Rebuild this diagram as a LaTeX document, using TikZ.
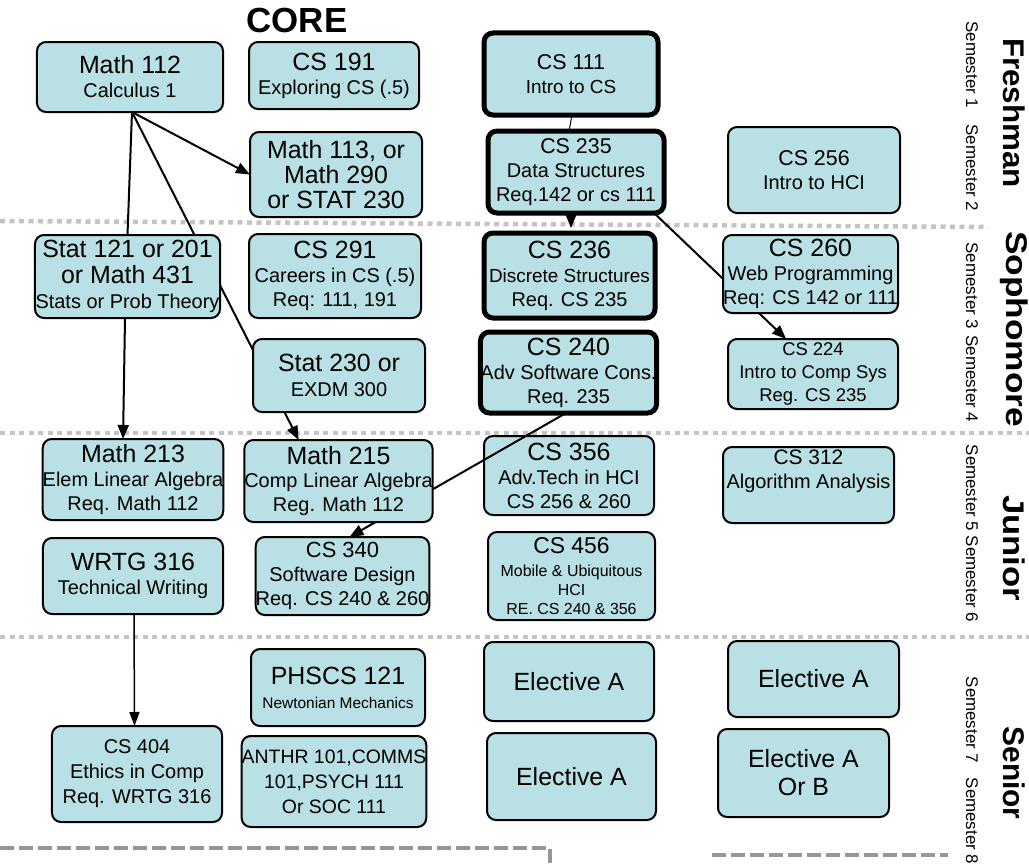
\documentclass[tikz,border=0pt]{standalone}
\usepackage{fontspec}
\usepackage{graphicx}
\setmainfont{Liberation Sans}
\usetikzlibrary{arrows.meta}
\definecolor{boxfill}{RGB}{185,224,228}
\definecolor{sepgray}{RGB}{196,196,196}
\definecolor{dashgray}{RGB}{150,150,150}
\newcommand\fBig{\fontsize{25}{26}\selectfont}
\newcommand\fMed{\fontsize{20}{24}\selectfont}
\begin{document}
\begin{tikzpicture}[x=1bp,y=-1bp,
  course/.style={draw, line width=2bp, rounded corners=9bp, fill=boxfill, align=center,
                 inner sep=0pt, outer sep=0pt, font=\fMed},
  keycourse/.style={course, line width=5bp},
  sz/.style 2 args={minimum width=#1bp, minimum height=#2bp},
  sem/.style={rotate=-90, font=\fontsize{17}{20}\selectfont},
  year/.style={rotate=-90, font=\fontsize{30}{32}\selectfont\bfseries},
  sep/.style={sepgray, line width=4.5bp, dash pattern=on 5bp off 4.5bp},
  frame/.style={dashgray, line width=4bp, dash pattern=on 14bp off 5bp},
  link/.style={line width=2bp, -{Triangle[length=14bp,width=11bp]}},
  plain/.style={line width=2bp},
]
\useasboundingbox (0,0) rectangle (1029,864);

% separators
\draw[sep] (0,221) -- (988,227);
\draw[sep] (0,433) -- (1029,433);
\draw[sep] (0,637) -- (1029,637);
\draw[frame] (0,848) -- (550,848) -- (550,864);
\draw[frame] (712,855) -- (948,855);

% title
\node[font=\fontsize{35}{36}\selectfont\bfseries] (core) at (297,20) {CORE};

% year / semester labels
\node[sem] (s1) at (972,65) {Semester 1};
\node[sem] (s2) at (972,168) {Semester 2};
\node[sem] (s3) at (972,286) {Semester 3};
\node[sem] (s4) at (972,379) {Semester 4};
\node[sem] (s5) at (972,488) {Semester 5};
\node[sem] (s6) at (972,579) {Semester 6};
\node[sem] (s7) at (972,720) {Semester 7};
\node[sem] (s8) at (972,821) {Semester 8};
\node[year] (fr) at (1014,113) {\scalebox{1.05}[1]{Freshman}};
\node[year] (so) at (1014,329) {\scalebox{1.18}[1]{Sophomore}};
\node[year] (ju) at (1014,548) {\scalebox{1.16}[1]{Junior}};
\node[year] (se) at (1014,773) {\scalebox{1.0}[1]{Senior}};

% courses (first group)
\node[course, sz={186}{70}] (math112) at (130,77) {{\fBig Math 112}\\Calculus 1};
\node[course, sz={170}{67}] (cs191) at (334,75.5) {{\fBig CS 191}\\Exploring CS (.5)};
\node[course, sz={172}{85}, font=\fontsize{25}{25.5}\selectfont] (math113) at (336,174.5) {Math 113, or\\Math 290\\or STAT 230};
\node[keycourse, sz={174}{82}] (cs111) at (571,74) {{\fontsize{21.5}{24}\selectfont CS 111}\\{\fontsize{19}{24}\selectfont Intro to CS}};
\node[keycourse, sz={176}{82}] (cs235) at (576,172) {{\fontsize{21.5}{24}\selectfont CS 235}\\Data Structures\\Req.142 or cs 111};
\node[course, sz={172}{86}] (cs256) at (814,170) {{\fontsize{21.5}{24}\selectfont CS 256}\\Intro to HCI};
\node[course, sz={172}{84}] (cs291) at (335,276) {{\fBig CS 291}\\Careers in CS (.5)\\Req: 111, 191};
\node[keycourse, sz={171}{85}] (cs236) at (569.5,275.5) {{\fBig CS 236}\\{\fontsize{19}{24}\selectfont Discrete Structures}\\Req. CS 235};
\node[course, sz={170}{70}, font=\fontsize{18.5}{23}\selectfont] (cs224) at (813,374) {CS 224\\Intro to Comp Sys\\Reg. CS 235};
\node[keycourse, sz={173}{81}] (cs240) at (568.5,372.5) {{\fBig CS 240}\\Adv Software Cons.\\Req. 235};
\node[course, sz={171}{78}] (cs340) at (342.5,576) {{\fontsize{22}{24}\selectfont CS 340}\\Software Design\\Req. CS 240 \& 260};
\node[course, sz={170}{79}] (cs356) at (569,475.5) {{\fBig CS 356}\\Adv.Tech in HCI\\CS 256 \& 260};
\node[course, sz={171}{76}] (cs312) at (808.5,485) {{\fontsize{21}{24}\selectfont CS 312}\\Algorithm Analysis\\\strut};
\node[course, sz={180}{81}] (math213) at (133,479.5) {{\fBig Math 213}\\Elem Linear Algebra\\Req. Math 112};
\node[course, sz={180}{76}] (wrtg316) at (133,576) {{\fBig WRTG 316}\\Technical Writing};
\node[course, sz={167}{88}, font=\fontsize{16}{19}\selectfont] (cs456) at (571.5,576) {{\fontsize{23}{24}\selectfont CS 456}\\[4bp]Mobile \& Ubiquitous\\HCI\\RE. CS 240 \& 356};
\node[course, sz={174}{77}] (phscs121) at (338,687.5) {{\fBig PHSCS 121}\\{\fontsize{15.5}{20}\selectfont Newtonian Mechanics}};
\node[course, sz={170}{79}, font=\fBig] (electA1) at (569,681.5) {Elective A};
\node[course, sz={171}{76}, font=\fBig] (electA2) at (813.5,679) {Elective A};
\node[course, sz={170}{96}, font=\fontsize{20}{25}\selectfont] (cs404) at (137,774) {CS 404\\Ethics in Comp\\Req. WRTG 316};
\node[course, sz={182}{91}, font=\fontsize{19.5}{25}\selectfont] (anthr) at (334,781.5) {ANTHR 101,COMMS\\101,PSYCH 111\\Or SOC 111};
\node[course, sz={169}{87}, font=\fBig] (electA3) at (571.5,776.5) {Elective A};
\node[course, sz={171}{88}, font=\fontsize{25}{28}\selectfont] (electAB) at (803.5,773) {Elective A\\Or B};

% connector hidden behind CS 260
\draw[link] ([xshift=-10]cs235.south east) -- ([xshift=-27]cs224.north);
\node[course, sz={171}{78}] (cs260) at (810.5,274) {{\fBig CS 260}\\Web Programming\\Req: CS 142 or 111};

% connector over CS 356, behind Math 215
\draw[link] ([xshift=-2.5]cs240.south) -- ([xshift=7]cs340.north);
\node[course, sz={177}{82}] (math215) at (338.5,481) {{\fBig Math 215}\\Comp Linear Algebra\\Reg. Math 112};

% connector behind Stat 121 and Stat 230
\draw[link] ([xshift=2]math112.south) -- ([xshift=-40]math215.north);
\node[course, sz={185}{83}, font=\fontsize{25}{25.5}\selectfont] (stat121) at (127.5,276.5) {Stat 121 or 201\\or Math 431\\{\fMed Stats or Prob Theory}};
\node[course, sz={172}{73}, font=\fontsize{25}{25}\selectfont] (stat230) at (339,375.5) {Stat 230 or\\{\fMed EXDM 300}};

% remaining connectors
\draw[link] ([xshift=2]math112.south) -- (math113.west);
\draw[plain] ([xshift=2]math112.south) -- (stat121.north);
\draw[link] ([xshift=-2.5]stat121.south) -- ([xshift=-10]math213.north);
\draw[line width=1bp] ([xshift=1]cs111.south) -- ([xshift=-7]cs235.north);
\draw[link, shorten >=5bp] ([xshift=-5]cs235.south) -- ([xshift=1.5]cs236.north);
\draw[line width=1.5bp, -{Triangle[length=14bp,width=10bp]}] ([xshift=1]wrtg316.south) -- ([xshift=-2.5]cs404.north);
\end{tikzpicture}
\end{document}
